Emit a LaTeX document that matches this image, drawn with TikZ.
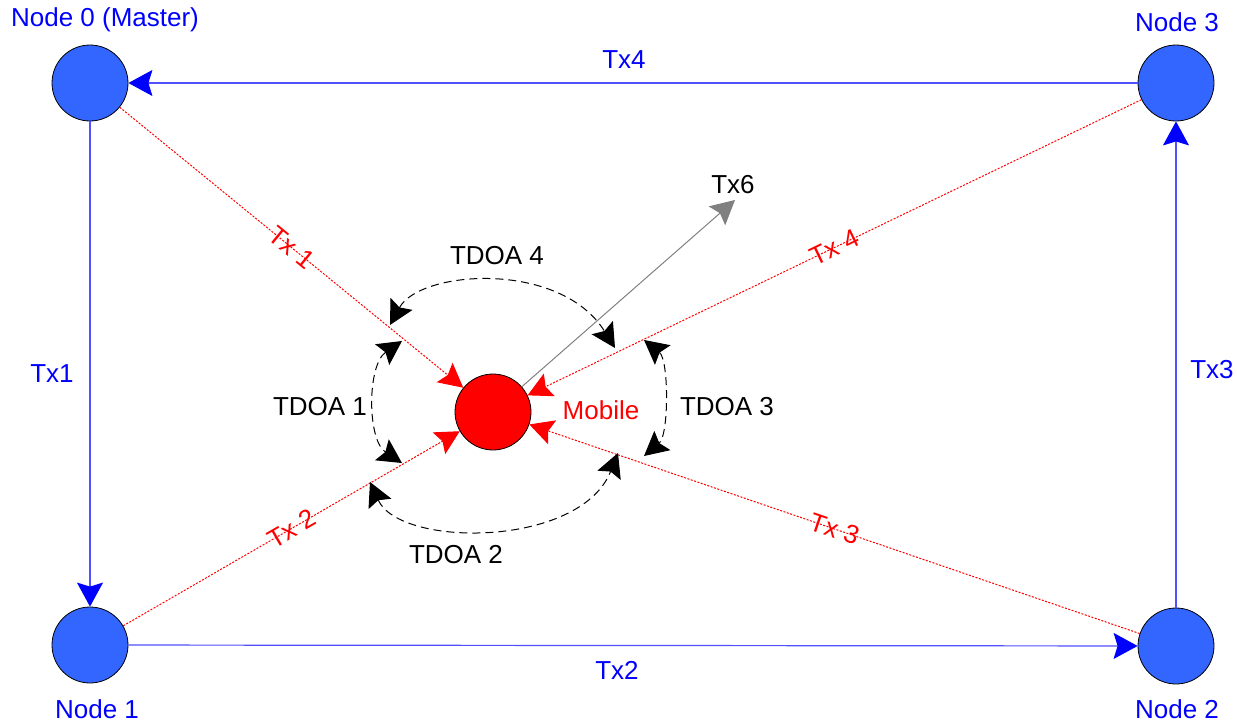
\documentclass[tikz,border=0pt]{standalone}
\usepackage{fontspec}
\setmainfont{Liberation Sans}
\usetikzlibrary{arrows.meta}
\definecolor{nodeblue}{RGB}{51,102,255}
\definecolor{lineblue}{RGB}{80,80,255}
\definecolor{txtblue}{RGB}{0,0,255}
\definecolor{mred}{RGB}{255,0,0}
\definecolor{tgrey}{RGB}{128,128,128}
\begin{document}
\begin{tikzpicture}[x=1pt,y=-1pt,
  every node/.style={font=\fontsize{26}{31}\selectfont},
  station/.style={circle, draw=black, line width=0.8pt, fill=nodeblue, minimum size=76pt, inner sep=0pt},
  mobilebox/.style={circle, draw=black, line width=0.8pt, fill=mred, minimum size=76pt, inner sep=0pt},
  bluelink/.style={draw=lineblue, line width=1.2pt, -{Stealth[length=24pt,width=26pt,inset=4pt,color=txtblue]}},
  redlink/.style={draw=mred, line width=1pt, dash pattern=on 2pt off 1.5pt, -{Stealth[length=24pt,width=25pt,inset=4pt,color=mred]}},
  greylink/.style={draw=tgrey, line width=1pt, -{Stealth[length=24pt,width=25pt,inset=4pt,color=tgrey]}},
  tdoalink/.style={draw=black, line width=1pt, dash pattern=on 8pt off 5pt, {Stealth[length=24pt,width=25pt,inset=4pt]}-{Stealth[length=24pt,width=25pt,inset=4pt]}},
  bluetext/.style={text=txtblue, inner sep=0pt},
  redtext/.style={text=mred, inner sep=1pt},
  blacktext/.style={text=black, inner sep=0pt}
]
\useasboundingbox (0,0) rectangle (1237,723);

% stations
\node[station] (n0) at (90,83) {};
\node[station] (n1) at (90,645) {};
\node[station] (n2) at (1176,646) {};
\node[station] (n3) at (1176,83) {};
\node[mobilebox] (mob) at (493,412) {};

% station labels
\node[bluetext] (l0) at (105,20) {Node 0 (Master)};
\node[bluetext] (l3) at (1177,22) {Node 3};
\node[bluetext] (l1) at (97,709) {Node 1};
\node[bluetext] (l2) at (1177,709) {Node 2};
\node[text=mred, inner sep=0pt] (lm) at (601,410) {Mobile};

% blue links
\draw[bluelink] (n3) -- (n0);
\draw[bluelink] (n0) -- (n1);
\draw[bluelink] (n1) -- (n2);
\draw[bluelink] (n2) -- (n3);
\node[bluetext] (t4) at (624,60) {Tx4};
\node[bluetext] (t1) at (52,374) {Tx1};
\node[bluetext] (t2) at (617,670) {Tx2};
\node[bluetext] (t3) at (1212,370) {Tx3};

% red links to mobile
\draw[redlink] (n0) -- node[redtext, sloped] {Tx 1} (mob);
\draw[redlink] (n1) -- node[redtext, sloped] {Tx 2} (mob);
\draw[redlink] (n2) -- node[redtext, sloped] {Tx 3} (mob);
\draw[redlink] (n3) -- node[redtext, sloped] {Tx 4} (mob);

% grey broadcast
\coordinate (g6) at (735,200);
\draw[greylink] (mob) -- (g6);
\node[blacktext] (t6) at (733,185) {Tx6};

% TDOA arcs
\coordinate (a4l) at (390,325);
\coordinate (a4r) at (615,348);
\draw[tdoalink] (a4l) .. controls (420,270) and (560,260) .. (a4r);
\node[blacktext] (d4) at (497,256) {TDOA 4};

\coordinate (a1t) at (402,341);
\coordinate (a1b) at (402,463);
\draw[tdoalink] (a1t) .. controls (367,365) and (367,440) .. (a1b);
\node[blacktext] (d1) at (320,407) {TDOA 1};

\coordinate (a3t) at (644,340);
\coordinate (a3b) at (644,456);
\draw[tdoalink] (a3t) .. controls (669,360) and (669,435) .. (a3b);
\node[blacktext] (d3) at (727,407) {TDOA 3};

\coordinate (a2l) at (370,482);
\coordinate (a2r) at (618,453);
\draw[tdoalink] (a2l) .. controls (400,548) and (580,548) .. (a2r);
\node[blacktext] (d2) at (456,555) {TDOA 2};
\end{tikzpicture}
\end{document}
